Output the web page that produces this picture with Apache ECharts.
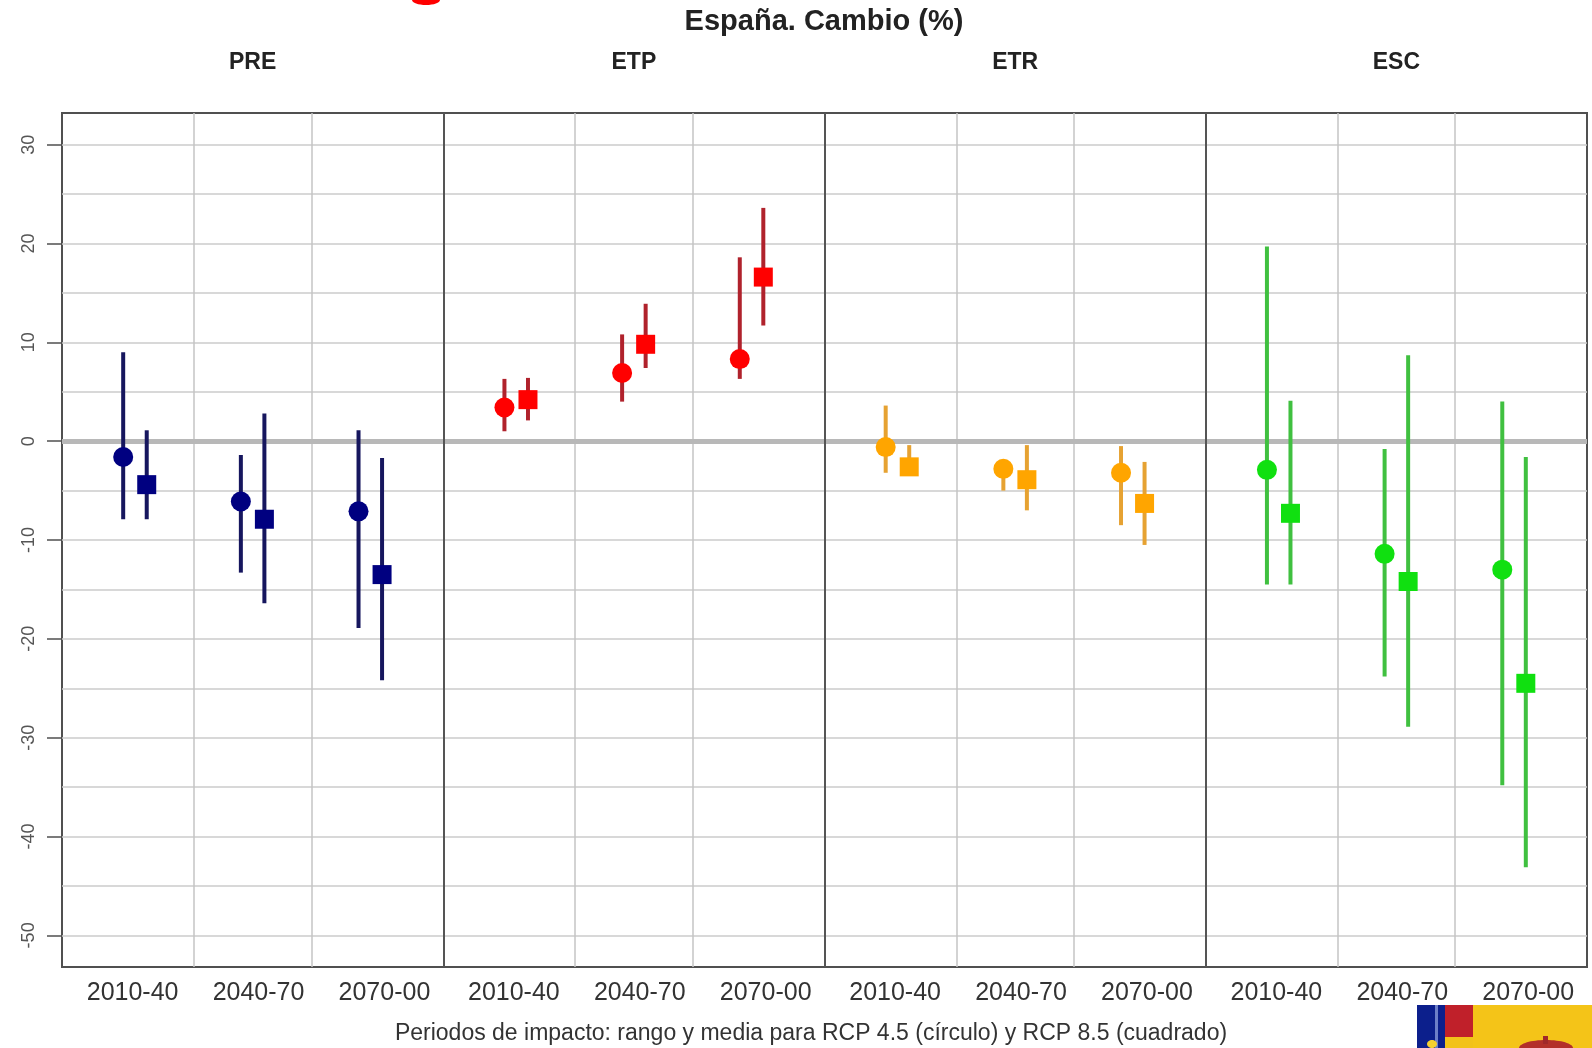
<!DOCTYPE html>
<html>
<head>
<meta charset="utf-8">
<title>España. Cambio (%)</title>
<script src="https://cdn.jsdelivr.net/npm/echarts@6/dist/echarts.min.js"></script>
<style>
  html, body { margin: 0; padding: 0; background: #fff; }
  #chart { width: 1592px; height: 1048px; }
</style>
</head>
<body>
<div id="chart"></div>
<script>
const variables = ['PRE', 'ETP', 'ETR', 'ESC'];
const periods = ['2010-40', '2040-70', '2070-00'];
const yTicks = [-50, -40, -30, -20, -10, 0, 10, 20, 30];

// [media, minimo, maximo] por periodo
const pre45 = [[-1.6, -7.9, 9.0], [-6.1, -13.3, -1.4], [-7.1, -18.9, 1.1]];
const pre85 = [[-4.4, -7.9, 1.1], [-7.9, -16.4, 2.8], [-13.5, -24.2, -1.7]];
const etp45 = [[3.4, 1.0, 6.3], [6.9, 4.0, 10.8], [8.3, 6.3, 18.6]];
const etp85 = [[4.2, 2.1, 6.4], [9.8, 7.4, 13.9], [16.6, 11.7, 23.6]];
const etr45 = [[-0.6, -3.2, 3.6], [-2.8, -5.0, -2.0], [-3.2, -8.5, -0.5]];
const etr85 = [[-2.6, -3.3, -0.4], [-3.9, -7.0, -0.4], [-6.3, -10.5, -2.1]];
const esc45 = [[-2.9, -14.5, 19.7], [-11.4, -23.8, -0.8], [-13.0, -34.8, 4.0]];
const esc85 = [[-7.3, -14.5, 4.1], [-14.2, -28.9, 8.7], [-24.5, -43.1, -1.6]];

const colors = {
  PRE: {mark: '#000080', line: '#16165e'},
  ETP: {mark: '#ff0000', line: '#b0222c'},
  ETR: {mark: '#ffa500', line: '#e6a232'},
  ESC: {mark: '#10e010', line: '#40c040'},
};

// cada panel ocupa 3.24 unidades del eje x (rango 0.5-3.5 ampliado un 4%)
const PANEL = 3.24;
const CELL0 = 0.62;
const labelPos = [0.6, 1.67, 2.74];

const chart = echarts.init(document.getElementById('chart'));

function errorBar(params, api) {
  const hi = api.coord([api.value(0), api.value(2)]);
  const lo = api.coord([api.value(0), api.value(1)]);
  return {
    type: 'line',
    shape: {x1: hi[0], y1: hi[1], x2: lo[0], y2: lo[1]},
    style: {stroke: api.visual('color'), lineWidth: 4},
  };
}

const groups = [
  ['PRE', pre45, pre85],
  ['ETP', etp45, etp85],
  ['ETR', etr45, etr85],
  ['ESC', esc45, esc85],
];

const series = [];

// rejilla
const gridLines = [];
for (let v = -50; v <= 30; v += 5) {
  if (v !== 0) gridLines.push({yAxis: v, lineStyle: {color: '#cbcbcb', width: 1.5, type: 'solid'}});
}
for (let k = 0; k < 4; k++) {
  gridLines.push({xAxis: k * PANEL + 1.12, lineStyle: {color: '#c4c4c4', width: 1.5, type: 'solid'}});
  gridLines.push({xAxis: k * PANEL + 2.12, lineStyle: {color: '#c4c4c4', width: 1.5, type: 'solid'}});
}
gridLines.push({yAxis: 0, lineStyle: {color: '#b8b8b8', width: 5, type: 'solid'}});
for (let k = 1; k < 4; k++) {
  gridLines.push({xAxis: k * PANEL, lineStyle: {color: '#555', width: 2, type: 'solid'}});
}
series.push({
  type: 'line',
  data: [],
  silent: true,
  z: 1,
  markLine: {
    silent: true,
    z: 1,
    symbol: ['none', 'none'],
    label: {show: false},
    animation: false,
    data: gridLines,
  },
});

groups.forEach(([name, d45, d85], k) => {
  [[d45, -0.1, 'circle', 20], [d85, 0.1, 'rect', 19]].forEach(([d, off, sym, size]) => {
    const xs = d.map((_, i) => k * PANEL + CELL0 + i + off);
    series.push({
      type: 'custom',
      renderItem: errorBar,
      itemStyle: {color: colors[name].line},
      encode: {x: 0, y: [1, 2]},
      data: d.map((r, i) => [xs[i], r[1], r[2]]),
      z: 8,
      silent: true,
    });
    series.push({
      type: 'scatter',
      symbol: sym,
      symbolSize: size,
      itemStyle: {color: colors[name].mark, opacity: 1},
      data: d.map((r, i) => [xs[i], r[0]]),
      z: 9,
      silent: true,
    });
  });
});

const xLabelValues = [];
const xLabelText = [];
for (let k = 0; k < 4; k++) {
  labelPos.forEach((p, i) => {
    xLabelValues.push(+(k * PANEL + p).toFixed(3));
    xLabelText.push(periods[i]);
  });
}

const font = '"Liberation Sans", Arial, sans-serif';

chart.setOption({
  animation: false,
  textStyle: {fontFamily: font},
  grid: {
    left: 62, right: 5, top: 113, bottom: 81,
    show: true, borderColor: '#505050', borderWidth: 2, backgroundColor: '#fff',
  },
  xAxis: {
    type: 'value',
    min: 0,
    max: 4 * PANEL,
    axisLine: {show: false},
    axisTick: {show: false},
    splitLine: {show: false},
    axisLabel: {
      customValues: xLabelValues,
      formatter: v => {
        let best = 0;
        xLabelValues.forEach((x, i) => {
          if (Math.abs(x - v) < Math.abs(xLabelValues[best] - v)) best = i;
        });
        return xLabelText[best];
      },
      margin: 14,
      fontSize: 25,
      color: '#333',
      fontFamily: font,
    },
  },
  yAxis: {
    type: 'value',
    min: -53.2,
    max: 33.2,
    axisLine: {show: false},
    splitLine: {show: false},
    axisTick: {show: true, customValues: yTicks, length: 15, lineStyle: {color: '#505050', width: 1.5}},
    axisLabel: {
      customValues: yTicks,
      rotate: 90,
      margin: 24,
      fontSize: 18,
      color: '#555',
      fontFamily: font,
    },
  },
  graphic: [
    {type: 'text', x: 824, y: 22, style: {
      text: 'España. Cambio (%)', font: 'bold 29px ' + font, fill: '#222', align: 'center', verticalAlign: 'middle'}},
    ...variables.map((v, k) => ({
      type: 'text', x: 62 + (k + 0.5) * 381.25, y: 63,
      style: {text: v, font: 'bold 23px ' + font, fill: '#222', align: 'center', verticalAlign: 'middle'},
    })),
    {type: 'text', x: 811, y: 1034, style: {
      text: 'Periodos de impacto: rango y media para RCP 4.5 (círculo) y RCP 8.5 (cuadrado)',
      font: '23px ' + font, fill: '#333', align: 'center', verticalAlign: 'middle'}},
    {type: 'ellipse', shape: {cx: 426, cy: 0, rx: 14, ry: 5}, style: {fill: '#ff0000'}},
    // logo
    {type: 'rect', shape: {x: 1417, y: 1005, width: 28, height: 43}, style: {fill: '#0c1f8c'}},
    {type: 'rect', shape: {x: 1435, y: 1005, width: 3, height: 43}, style: {fill: '#6d7fc8'}},
    {type: 'rect', shape: {x: 1445, y: 1005, width: 28, height: 32}, style: {fill: '#c0202a'}},
    {type: 'rect', shape: {x: 1445, y: 1037, width: 28, height: 11}, style: {fill: '#f2c21a'}},
    {type: 'rect', shape: {x: 1473, y: 1005, width: 119, height: 43}, style: {fill: '#f4c418'}},
    {type: 'ellipse', shape: {cx: 1432, cy: 1044, rx: 5, ry: 4}, style: {fill: '#f4d030'}},
    {type: 'ellipse', shape: {cx: 1546, cy: 1048, rx: 27, ry: 8}, style: {fill: '#b3302a'}},
    {type: 'rect', shape: {x: 1543, y: 1036, width: 5, height: 8}, style: {fill: '#a0282a'}},
  ],
  series: series,
});
</script>
</body>
</html>
